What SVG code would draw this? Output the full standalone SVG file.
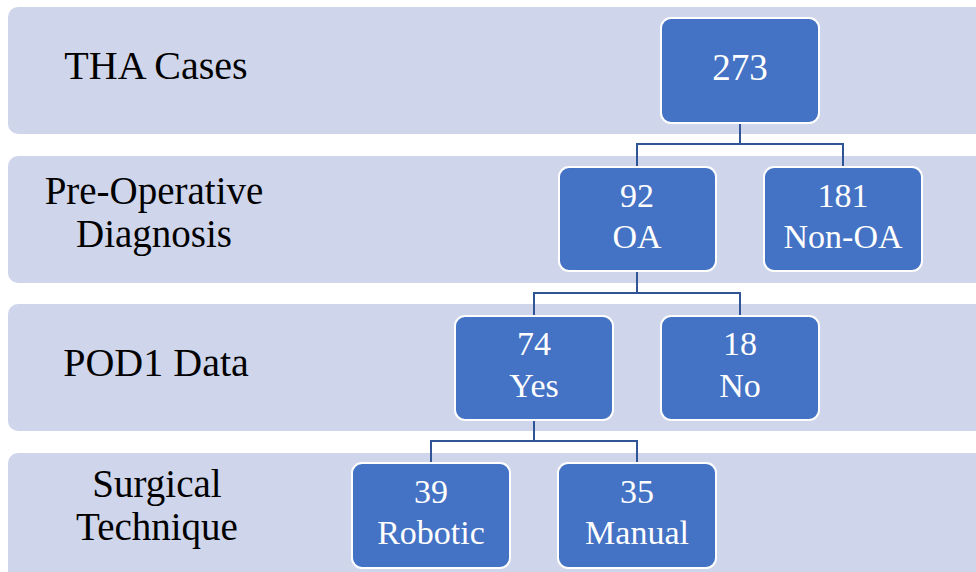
<svg xmlns="http://www.w3.org/2000/svg" width="976" height="572" viewBox="0 0 976 572">
<style>
.band{fill:#CFD5EA;}
.box{fill:#4472C4;stroke:#FFFFFF;stroke-width:2;}
.lbl{font-family:"Liberation Serif","Times New Roman",serif;font-size:40px;fill:#000;text-anchor:middle;}
.lbl2{font-family:"Liberation Serif","Times New Roman",serif;font-size:39px;fill:#000;text-anchor:middle;}
.bt{font-family:"Liberation Serif","Times New Roman",serif;font-size:34px;fill:#FFFFFF;text-anchor:middle;}
.conn{fill:none;stroke:#2F5597;stroke-width:2;}
</style>
<rect width="976" height="572" fill="#FFFFFF"/>
<g id="bands">
<rect class="band" x="8" y="7" width="1000" height="127" rx="10"/>
<rect class="band" x="8" y="156" width="1000" height="127" rx="10"/>
<rect class="band" x="8" y="304" width="1000" height="127" rx="10"/>
<rect class="band" x="8" y="453" width="1000" height="140" rx="10"/>
</g>
<g id="labels">
<text class="lbl" x="156" y="79">THA Cases</text>
<text class="lbl2" x="154" y="204">Pre-Operative</text>
<text class="lbl2" x="154" y="247">Diagnosis</text>
<text class="lbl" x="156" y="376">POD1 Data</text>
<text class="lbl2" x="157" y="497">Surgical</text>
<text class="lbl2" x="157" y="540">Technique</text>
</g>
<g id="connectors">
<path class="conn" d="M740,123 V144 M637,167 V144 H843 V167"/>
<path class="conn" d="M637,271 V293 M534,316 V293 H740 V316"/>
<path class="conn" d="M534,420 V441 M431,463 V441 H637 V463"/>
</g>
<g id="n273">
<rect class="box" x="661" y="18" width="158" height="105" rx="10"/>
<text class="bt" x="740" y="80" style="font-size:37px">273</text>
</g>
<g id="n92">
<rect class="box" x="559" y="167" width="157" height="104" rx="10"/>
<text class="bt" x="637" y="207">92<tspan x="637" y="248">OA</tspan></text>
</g>
<g id="n181">
<rect class="box" x="764" y="167" width="158" height="104" rx="10"/>
<text class="bt" x="843" y="207">181<tspan x="843" y="248">Non-OA</tspan></text>
</g>
<g id="n74">
<rect class="box" x="455" y="316" width="158" height="104" rx="10"/>
<text class="bt" x="534" y="355">74<tspan x="534" y="397">Yes</tspan></text>
</g>
<g id="n18">
<rect class="box" x="661" y="316" width="158" height="104" rx="10"/>
<text class="bt" x="740" y="355">18<tspan x="740" y="397">No</tspan></text>
</g>
<g id="n39">
<rect class="box" x="352" y="463" width="158" height="105" rx="10"/>
<text class="bt" x="431" y="503">39<tspan x="431" y="544">Robotic</tspan></text>
</g>
<g id="n35">
<rect class="box" x="558" y="463" width="158" height="105" rx="10"/>
<text class="bt" x="637" y="503">35<tspan x="637" y="544">Manual</tspan></text>
</g>
</svg>
